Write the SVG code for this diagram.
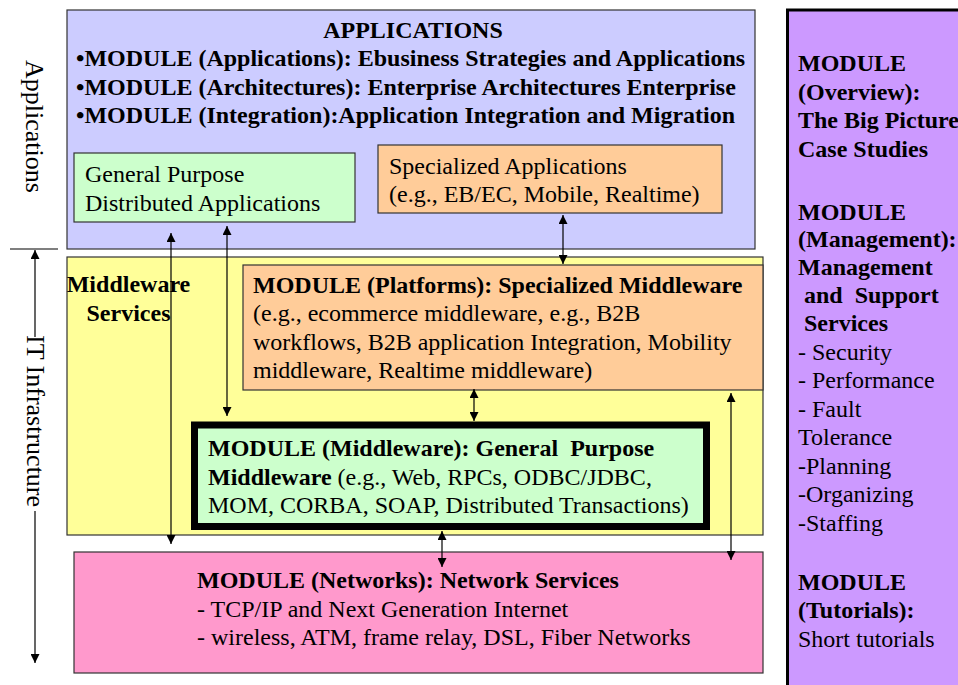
<svg xmlns="http://www.w3.org/2000/svg" width="958" height="685" viewBox="0 0 958 685" font-family="'Liberation Serif', Tinos, 'Times New Roman', 'DejaVu Serif', serif">
<defs>
<style>
text{font-family:'Liberation Serif',Tinos,'Times New Roman','DejaVu Serif',serif;font-size:24px;fill:#000;white-space:pre}
.b{font-weight:bold}
.box{stroke:#333;stroke-width:1.2}
.c{stroke:#000;stroke-width:1.2;fill:none;marker-start:url(#ah);marker-end:url(#ah)}
.side{font-size:26px}
</style>
<marker id="ah" viewBox="0 0 10 10" refX="10" refY="5" markerWidth="10" markerHeight="9" markerUnits="userSpaceOnUse" orient="auto-start-reverse">
<path d="M0,0 L10,5 L0,10 Z" fill="#000"/>
</marker>
</defs>
<rect width="958" height="685" fill="#fff"/>

<g id="axis">
<text class="side" transform="translate(25.5,60) rotate(90)">Applications</text>
<line x1="10" y1="249" x2="58" y2="249" stroke="#000" stroke-width="1.2"/>
<line x1="35" y1="337" x2="35" y2="250" stroke="#000" stroke-width="1.2" marker-end="url(#ah)"/>
<text class="side" transform="translate(27,335) rotate(90)">IT Infrastructure</text>
<line x1="35" y1="511" x2="35" y2="663" stroke="#000" stroke-width="1.2" marker-end="url(#ah)"/>
</g>

<g id="applications">
<rect class="box" x="67" y="10" width="688" height="239" fill="#CCCCFF"/>
<text class="b" x="413" y="38" text-anchor="middle">APPLICATIONS</text>
<text class="b" x="76" y="66">•MODULE (Applications): Ebusiness Strategies and Applications</text>
<text class="b" x="76" y="94.5">•MODULE (Architectures): Enterprise Architectures Enterprise</text>
<text class="b" x="76" y="123">•MODULE (Integration):Application Integration and Migration</text>
</g>

<g id="general-apps">
<rect class="box" x="74" y="153" width="281" height="69" fill="#CCFFCC"/>
<text x="85" y="182">General Purpose</text>
<text x="85" y="211">Distributed Applications</text>
</g>

<g id="specialized-apps">
<rect class="box" x="378" y="145" width="344" height="68" fill="#FFCC99"/>
<text x="389" y="174">Specialized Applications</text>
<text x="389" y="202">(e.g., EB/EC, Mobile, Realtime)</text>
</g>

<g id="middleware-services">
<rect class="box" x="67" y="257" width="696" height="278" fill="#FFFF99"/>
<text class="b" x="128.5" y="292" text-anchor="middle">Middleware</text>
<text class="b" x="128.5" y="321" text-anchor="middle">Services</text>
</g>

<g id="platforms">
<rect class="box" x="243" y="265" width="520" height="125" fill="#FFCC99"/>
<text class="b" x="253" y="293">MODULE (Platforms): Specialized Middleware</text>
<text x="253" y="321">(e.g., ecommerce middleware, e.g., B2B</text>
<text x="253" y="349.5">workflows, B2B application Integration, Mobility</text>
<text x="253" y="378">middleware, Realtime middleware)</text>
</g>

<g id="middleware">
<rect x="194.5" y="425" width="512" height="101.5" fill="#CCFFCC" stroke="#000" stroke-width="7"/>
<text class="b" x="208" y="456">MODULE (Middleware): General  Purpose</text>
<text x="208" y="485"><tspan class="b">Middleware</tspan> (e.g., Web, RPCs, ODBC/JDBC,</text>
<text x="208" y="513">MOM, CORBA, SOAP, Distributed Transactions)</text>
</g>

<g id="networks">
<rect class="box" x="74" y="552" width="689" height="121" fill="#FF99CC"/>
<text class="b" x="197" y="588">MODULE (Networks): Network Services</text>
<text x="197" y="617">- TCP/IP and Next Generation Internet</text>
<text x="197" y="645">- wireless, ATM, frame relay, DSL, Fiber Networks</text>
</g>

<g id="modules-panel">
<rect x="787.5" y="10" width="185" height="690" fill="#CC99FF" stroke="#000" stroke-width="3"/>
<text class="b" x="798" y="71">MODULE</text>
<text class="b" x="798" y="99.5">(Overview):</text>
<text class="b" x="798" y="128">The Big Picture</text>
<text class="b" x="798" y="157">Case Studies</text>
<text class="b" x="798" y="220">MODULE</text>
<text class="b" x="798" y="247">(Management):</text>
<text class="b" x="798" y="275">Management</text>
<text class="b" x="798" y="303"> and  Support</text>
<text class="b" x="798" y="331"> Services</text>
<text x="798" y="359.5">- Security</text>
<text x="798" y="388">- Performance</text>
<text x="798" y="416.5">- Fault</text>
<text x="798" y="445">Tolerance</text>
<text x="798" y="473.5">-Planning</text>
<text x="798" y="502">-Organizing</text>
<text x="798" y="530.5">-Staffing</text>
<text class="b" x="798" y="590">MODULE</text>
<text class="b" x="798" y="618">(Tutorials):</text>
<text x="798" y="647">Short tutorials</text>
</g>

<g id="connectors">
<line class="c" x1="171" y1="233" x2="171" y2="544"/>
<line class="c" x1="227" y1="226" x2="227" y2="416"/>
<line class="c" x1="563" y1="215" x2="563" y2="264"/>
<line class="c" x1="474" y1="389" x2="474" y2="421"/>
<line class="c" x1="442" y1="531" x2="442" y2="567"/>
<line class="c" x1="731" y1="393" x2="731" y2="560"/>
</g>
</svg>
